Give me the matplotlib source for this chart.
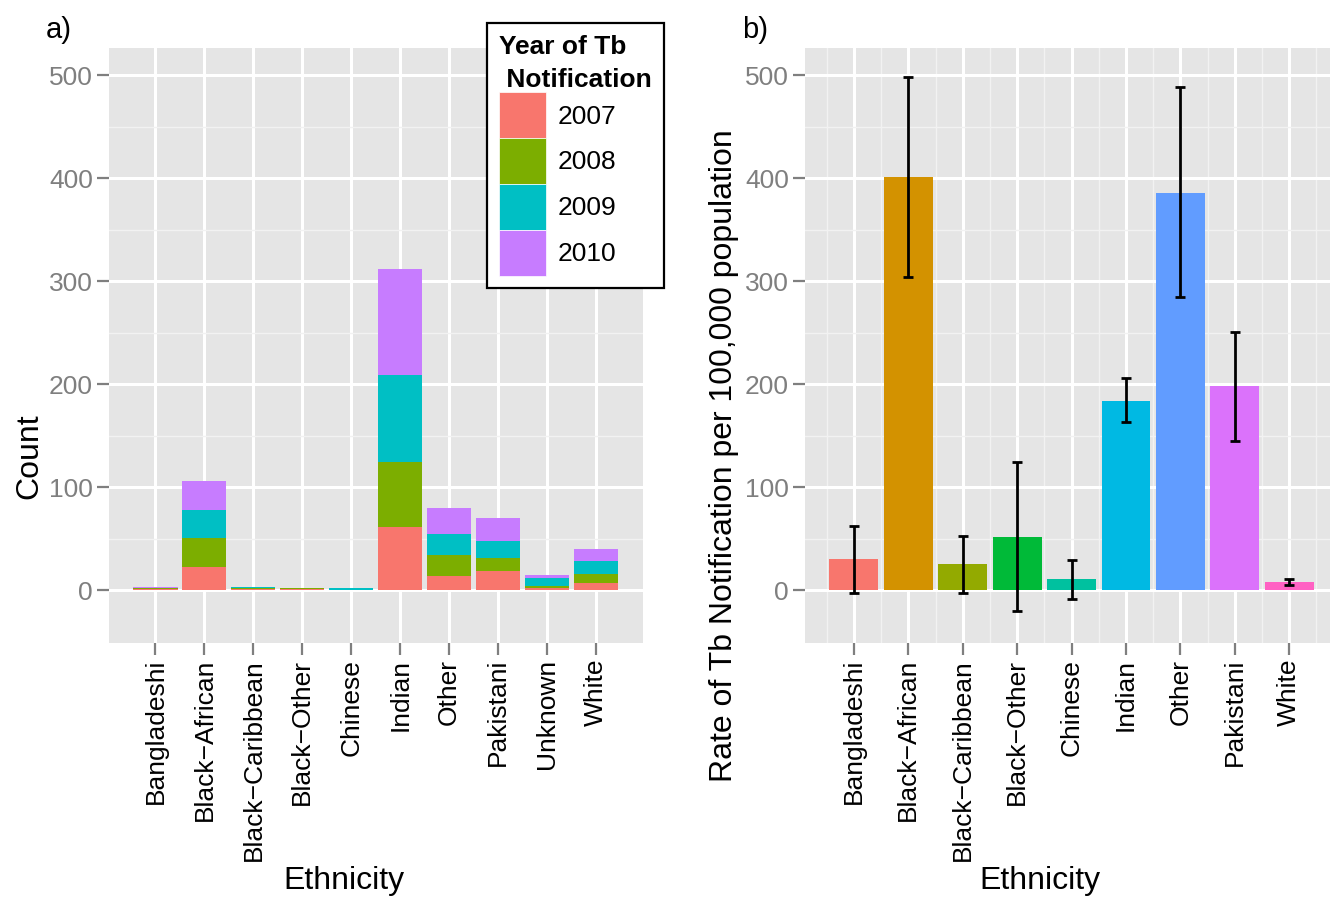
import matplotlib
matplotlib.use("Agg")
import matplotlib.pyplot as plt
from matplotlib.patches import Patch
from matplotlib.ticker import MultipleLocator, FixedLocator
import numpy as np

plt.rcParams["font.family"] = ["Liberation Sans", "DejaVu Sans"]

# panel a) counts by year
ethnic_a = ["Bangladeshi", "Black\u2212African", "Black\u2212Caribbean", "Black\u2212Other",
            "Chinese", "Indian", "Other", "Pakistani", "Unknown", "White"]
years = ["2007", "2008", "2009", "2010"]
c2007 = [1, 23, 1, 1, 0, 61, 14, 19, 2, 7]
c2008 = [1, 28, 1, 1, 0, 63, 20, 12, 2, 9]
c2009 = [0, 27, 1, 0, 2, 85, 21, 17, 8, 12]
c2010 = [1, 28, 0, 0, 0, 103, 25, 22, 3, 12]
year_colors = ["#F8766D", "#7CAE00", "#00BFC4", "#C77CFF"]

# panel b) rate per 100,000 with error bars
ethnic_b = ["Bangladeshi", "Black\u2212African", "Black\u2212Caribbean", "Black\u2212Other",
            "Chinese", "Indian", "Other", "Pakistani", "White"]
rate = [30, 401, 25, 52, 10.7, 184, 386, 198, 7.8]
rate_lo = [-3, 304, -2.6, -20, -9, 163, 285, 145, 5.5]
rate_hi = [62.7, 498, 52.6, 124, 29.4, 205.5, 488, 251, 10.7]
eth_colors = ["#F8766D", "#D39200", "#93AA00", "#00BA38", "#00C19F",
              "#00B9E3", "#619CFF", "#DB72FB", "#FF61C3"]

W, H = 1330, 902
fig = plt.figure(figsize=(W / 100, H / 100), dpi=100)
ax1 = fig.add_axes([109 / W, 1 - 643 / H, 534 / W, 595 / H])
ax2 = fig.add_axes([805 / W, 1 - 643 / H, 525 / W, 595 / H])

GREY = "#7F7F7F"


def style(ax):
    ax.set_facecolor("#E5E5E5")
    for s in ax.spines.values():
        s.set_visible(False)
    ax.set_ylim(-51.25, 526.25)
    ax.yaxis.set_major_locator(MultipleLocator(100))
    ax.yaxis.set_minor_locator(FixedLocator([50, 150, 250, 350, 450]))
    ax.grid(which="major", color="white", linewidth=2.2)
    ax.grid(which="minor", color="#F2F2F2", linewidth=1.0)
    ax.set_axisbelow(True)
    ax.tick_params(which="major", length=8.5, width=1.6, color=GREY,
                   labelcolor=GREY, labelsize=19, pad=3)
    ax.tick_params(axis="x", labelcolor="black")
    ax.tick_params(which="minor", length=0)


# ---- a)
x1 = np.arange(1, len(ethnic_a) + 1)
bottom = np.zeros(len(ethnic_a))
for vals, col, yr in zip([c2007, c2008, c2009, c2010], year_colors, years):
    ax1.bar(x1, vals, width=0.9, bottom=bottom, color=col, linewidth=0, label=yr)
    bottom += np.array(vals)
style(ax1)
ax1.set_xlim(0.05, 10.96)
ax1.set_xticks(x1)
ax1.set_xticklabels(ethnic_a, rotation=90, ha="center", va="top")
ax1.xaxis.grid(which="minor", visible=False)
ax1.set_xlabel("Ethnicity", fontsize=23, va="top")
ax1.xaxis.set_label_coords((344 - 109) / 534, (643 - 866) / 595)
ax1.set_ylabel("Count", fontsize=23)
ax1.yaxis.set_label_coords((44 - 109) / 534, (643 - 456) / 595)

handles = [Patch(facecolor=c, edgecolor="white", linewidth=0.5) for c in year_colors]
leg = ax1.legend(handles, years, title="Year of Tb\n Notification",
                 loc="upper left", bbox_to_anchor=(487 / W, 1 - 23 / H),
                 bbox_transform=fig.transFigure, borderaxespad=0,
                 fontsize=19, title_fontproperties={"weight": "bold", "size": 19},
                 alignment="left", fancybox=False, framealpha=1,
                 edgecolor="black", borderpad=0.45, labelspacing=0,
                 handlelength=1.8, handleheight=2.3, handletextpad=0.42)
leg.get_frame().set_linewidth(1.6)
leg.get_title().set_linespacing(1.5)

# ---- b)
x2 = np.arange(1, len(ethnic_b) + 1)
ax2.bar(x2, rate, width=0.9, color=eth_colors, linewidth=0)
err = [np.array(rate) - np.array(rate_lo), np.array(rate_hi) - np.array(rate)]
ax2.errorbar(x2, rate, yerr=err, fmt="none", ecolor="black", elinewidth=2,
             capsize=3.6, capthick=2)
style(ax2)
ax2.set_xlim(0.1, 9.75)
ax2.set_xticks(x2)
ax2.xaxis.set_minor_locator(FixedLocator(np.arange(0.5, 10, 1.0)))
ax2.set_xticklabels(ethnic_b, rotation=90, ha="center", va="top")
ax2.set_xlabel("Ethnicity", fontsize=23, va="top")
ax2.xaxis.set_label_coords((1040 - 805) / 525, (643 - 866) / 595)
ax2.set_ylabel("Rate of Tb Notification per 100,000 population", fontsize=23)
ax2.yaxis.set_label_coords((739 - 805) / 525, (643 - 456) / 595)

fig.text(46 / W, 1 - 38 / H, "a)", fontsize=21, va="baseline", ha="left")
fig.text(742 / W, 1 - 38 / H, "b)", fontsize=21, va="baseline", ha="left")

fig.savefig("out.png", dpi=100)
